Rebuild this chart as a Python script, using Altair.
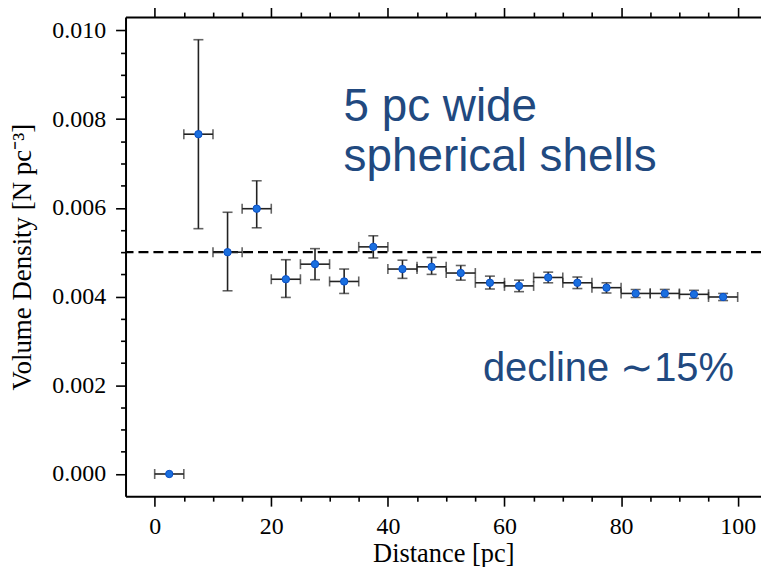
import altair as alt
import pandas as pd

# ---- data ----
distance = [2.5, 7.5, 12.5, 17.5, 22.5, 27.5, 32.5, 37.5, 42.5, 47.5,
            52.5, 57.5, 62.5, 67.5, 72.5, 77.5, 82.5, 87.5, 92.5, 97.5]
density = [0.0, 0.00766, 0.00500, 0.00598, 0.00439, 0.00473, 0.00434, 0.00512, 0.00462, 0.00467,
           0.00453, 0.00431, 0.00424, 0.00443, 0.00431, 0.00420, 0.00407, 0.00407, 0.00405, 0.00399]
density_lo = [None, 0.00553, 0.00413, 0.00555, 0.00398, 0.00438, 0.00407, 0.00487, 0.00441, 0.00450,
              0.00437, 0.00417, 0.00411, 0.00431, 0.00418, 0.00408, 0.00398, 0.00398, 0.00396, 0.00391]
density_hi = [None, 0.00979, 0.00590, 0.00661, 0.00483, 0.00508, 0.00462, 0.00537, 0.00482, 0.00488,
              0.00470, 0.00446, 0.00437, 0.00455, 0.00444, 0.00431, 0.00416, 0.00416, 0.00414, 0.00407]
shell_half_width = 2.5
reference_density = 0.005

x_ticks = list(range(0, 101, 5))
y_ticks = [round(i * 0.0005, 4) for i in range(0, 21)]

note_text = ["5 pc wide", "spherical shells", "decline ∼15%"]
note_x = [32.4, 32.4, 56.3]
note_y = [0.00796, 0.00684, 0.00209]
note_size = [46, 46, 40]

# ---- tables ----
df = pd.DataFrame({"distance": distance, "density": density,
                   "lo": density_lo, "hi": density_hi})
df["x_lo"] = df["distance"] - shell_half_width
df["x_hi"] = df["distance"] + shell_half_width
err = df.dropna()
ref = pd.DataFrame({"ref": [reference_density]})
notes = pd.DataFrame({"text": note_text, "x": note_x, "y": note_y, "fs": note_size})

SERIF = "Liberation Serif"
INK = "#222222"
PT = "#1a6fdf"
NOTE = "#21497f"

xscale = alt.Scale(domain=[-5, 104], nice=False, zero=False)
yscale = alt.Scale(domain=[-0.0005, 0.0103], nice=False, zero=False)

major_x = "datum.value % 20 == 0"
major_y = "round(datum.value * 10000) % 20 == 0"

common_axis = dict(grid=False, domainColor="black", domainWidth=2, tickColor="black",
                   tickWidth=1.6, labelFont=SERIF, labelFontSize=24, labelColor="black",
                   titleFont=SERIF, titleFontWeight="normal",
                   titleColor="black", labelOverlap=False, labelBound=False, labelFlush=False)

x_bottom = alt.Axis(orient="bottom", values=x_ticks,
                    labelExpr=f"{major_x} ? datum.label : ''",
                    tickSize={"condition": {"test": major_x, "value": 10}, "value": 5},
                    labelPadding=8, title="Distance [pc]", titlePadding=3,
                    titleFontSize=26.5, **common_axis)
x_top = alt.Axis(orient="top", values=x_ticks, labels=False, title=None,
                 tickSize={"condition": {"test": major_x, "value": 10}, "value": 5},
                 **{k: v for k, v in common_axis.items() if not k.startswith("title") and not k.startswith("label")})
y_left = alt.Axis(orient="left", values=y_ticks,
                  labelExpr=f"{major_y} ? format(datum.value, '.3f') : ''",
                  tickSize={"condition": {"test": major_y, "value": 10}, "value": 5},
                  labelPadding=10, title="Volume Density [N pc⁻³]", titlePadding=15,
                  titleFontSize=27, **common_axis)

base = alt.Chart(df)

hbar = base.mark_rule(color=INK, strokeWidth=1.6).encode(
    x=alt.X("x_lo:Q", scale=xscale, axis=x_bottom),
    x2="x_hi:Q",
    y=alt.Y("density:Q", scale=yscale, axis=y_left),
)
hcap_lo = base.mark_tick(color=INK, thickness=1.6, size=10, orient="vertical").encode(
    x=alt.X("x_lo:Q", scale=xscale, axis=x_top),
    y=alt.Y("density:Q", scale=yscale, axis=None),
)
hcap_hi = base.mark_tick(color=INK, thickness=1.6, size=10, orient="vertical").encode(
    x=alt.X("x_hi:Q", scale=xscale, axis=None),
    y=alt.Y("density:Q", scale=yscale, axis=None),
)
vbar = alt.Chart(err).mark_rule(color=INK, strokeWidth=1.6).encode(
    x=alt.X("distance:Q", scale=xscale, axis=None),
    y=alt.Y("lo:Q", scale=yscale, axis=None),
    y2="hi:Q",
)
vcap_lo = alt.Chart(err).mark_tick(color=INK, thickness=1.6, size=10, orient="horizontal").encode(
    x=alt.X("distance:Q", scale=xscale, axis=None),
    y=alt.Y("lo:Q", scale=yscale, axis=None),
)
vcap_hi = alt.Chart(err).mark_tick(color=INK, thickness=1.6, size=10, orient="horizontal").encode(
    x=alt.X("distance:Q", scale=xscale, axis=None),
    y=alt.Y("hi:Q", scale=yscale, axis=None),
)
refline = alt.Chart(ref).mark_rule(color="black", strokeWidth=2.2, strokeDash=[10, 5]).encode(
    y=alt.Y("ref:Q", scale=yscale, axis=None),
)
points = base.mark_circle(color=PT, opacity=1, size=55, stroke="#0b4fc4", strokeWidth=1).encode(
    x=alt.X("distance:Q", scale=xscale, axis=None),
    y=alt.Y("density:Q", scale=yscale, axis=None),
)
text = alt.Chart(notes).mark_text(align="left", baseline="alphabetic",
                                  font="Liberation Sans", color=NOTE).encode(
    x=alt.X("x:Q", scale=xscale, axis=None),
    y=alt.Y("y:Q", scale=yscale, axis=None),
    text="text:N",
    size=alt.Size("fs:Q", scale=None, legend=None),
)

chart = alt.layer(refline, hbar, hcap_lo, hcap_hi, vbar, vcap_lo, vcap_hi, points, text).resolve_axis(
    x="independent", y="independent"
).properties(
    width=638, height=481,
    autosize=alt.AutoSizeParams(type="none"),
    padding={"left": 118, "top": 8, "right": 0, "bottom": 70},
).configure_view(stroke=None).configure(background="white")

chart.save("out.html", embed_options={"renderer": "svg", "actions": False})
